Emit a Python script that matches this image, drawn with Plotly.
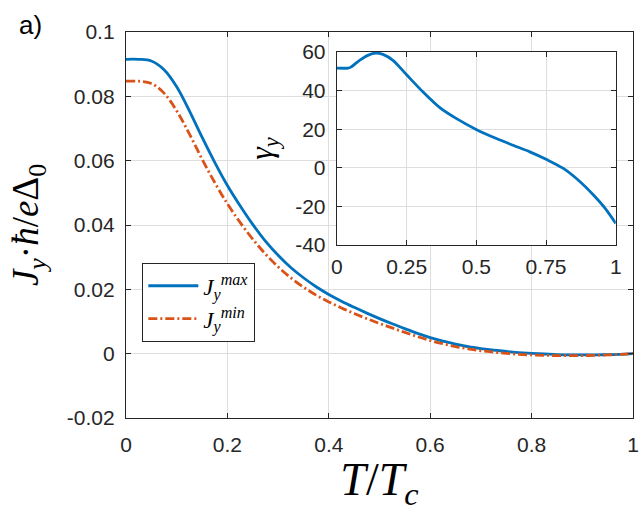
import plotly.graph_objects as go

# ---- data ----
T = [0, 0.025, 0.05, 0.075, 0.1, 0.125, 0.15, 0.175, 0.2, 0.225, 0.25, 0.275, 0.3,
     0.325, 0.35, 0.375, 0.4, 0.425, 0.45, 0.475, 0.5, 0.525, 0.55, 0.575, 0.6,
     0.625, 0.65, 0.675, 0.7, 0.725, 0.75, 0.775, 0.8, 0.825, 0.85, 0.875, 0.9,
     0.925, 0.95, 0.975, 1.0]
J_max = [0.0915, 0.0915, 0.0910, 0.0883, 0.0830, 0.0755, 0.0673, 0.0595, 0.0523,
         0.0460, 0.0402, 0.0350, 0.0306, 0.0268, 0.0236, 0.0208, 0.0184, 0.0163,
         0.0144, 0.0126, 0.0109, 0.0093, 0.0078, 0.0063, 0.0050, 0.0039, 0.0030,
         0.0022, 0.0016, 0.0011, 0.0007, 0.0003, 0.0001, -0.0001, -0.0003, -0.0004,
         -0.0004, -0.0004, -0.0003, -0.0002, 0.0]
J_min = [0.0847, 0.0847, 0.0840, 0.0810, 0.0755, 0.0683, 0.0605, 0.0532, 0.0466,
         0.0408, 0.0356, 0.0310, 0.0270, 0.0236, 0.0207, 0.0182, 0.0161, 0.0142,
         0.0125, 0.0109, 0.0094, 0.0080, 0.0066, 0.0053, 0.0041, 0.0031, 0.0022,
         0.0015, 0.0009, 0.0005, 0.0001, -0.0002, -0.0004, -0.0005, -0.0006, -0.0006,
         -0.0006, -0.0005, -0.0004, -0.0002, 0.0]

T_in = [0, 0.04, 0.05, 0.081, 0.111, 0.139, 0.165, 0.201, 0.249, 0.309, 0.369,
        0.429, 0.501, 0.572, 0.632, 0.692, 0.752, 0.812, 0.872, 0.92, 0.962, 1.0]
gamma_y = [51.7, 51.7, 52.2, 55.7, 58.3, 59.5, 58.8, 55.7, 48.4, 39.3, 31.2,
           25.5, 19.8, 15.2, 11.7, 8.3, 4.3, -0.3, -7.2, -14.1, -21.0, -28.8]

main_xticks = [0, 0.2, 0.4, 0.6, 0.8, 1]
main_xticklabels = ["0", "0.2", "0.4", "0.6", "0.8", "1"]
main_yticks = [-0.02, 0, 0.02, 0.04, 0.06, 0.08, 0.1]
main_yticklabels = ["-0.02", "0", "0.02", "0.04", "0.06", "0.08", "0.1"]
in_xticks = [0, 0.25, 0.5, 0.75, 1]
in_xticklabels = ["0", "0.25", "0.5", "0.75", "1"]
in_yticks = [-40, -20, 0, 20, 40, 60]
in_yticklabels = ["-40", "-20", "0", "20", "40", "60"]

BLUE = "#0072BD"
ORANGE = "#D95319"
AX = "#262626"
GRID = "#dedede"
TICKFONT = dict(family="Liberation Sans, Arial, sans-serif", size=21, color=AX)
SERIF = "Liberation Serif, Times New Roman, serif"

fig = go.Figure()
fig.add_trace(go.Scatter(x=T, y=J_max, mode="lines", line=dict(color=BLUE, width=2.8, shape="spline", smoothing=1),
                         name="<i>J</i><sub><i>y</i></sub><sup><i>max</i></sup>", xaxis="x", yaxis="y"))
fig.add_trace(go.Scatter(x=T, y=J_min, mode="lines",
                         line=dict(color=ORANGE, width=2.8, dash="9px,3px,2px,3px", shape="spline", smoothing=1),
                         name="<i>J</i><sub><i>y</i></sub><sup><i>min</i></sup>", xaxis="x", yaxis="y"))
fig.add_trace(go.Scatter(x=T_in, y=gamma_y, mode="lines", line=dict(color=BLUE, width=2.8, shape="spline", smoothing=0.8),
                         showlegend=False, xaxis="x2", yaxis="y2"))

common = dict(showline=True, linecolor=AX, linewidth=1.3, mirror="ticks", ticks="inside",
              ticklen=5, tickcolor=AX, tickwidth=1.3, showgrid=True, gridcolor=GRID,
              gridwidth=1, zeroline=False, tickfont=TICKFONT, automargin=False)

fig.update_layout(
    width=641, height=512,
    margin=dict(l=126, r=8, t=32, b=94, autoexpand=False),
    paper_bgcolor="white", plot_bgcolor="white",
    xaxis=dict(domain=[0, 1], range=[0, 1], tickvals=main_xticks, ticktext=main_xticklabels,
               ticklabelstandoff=8,
               title=dict(text="<i>T</i>/<i>T</i><sub><i>c</i></sub>", font=dict(family=SERIF, size=46, color="black"),
                          standoff=4),
               **common),
    yaxis=dict(domain=[0, 1], range=[-0.02, 0.1], tickvals=main_yticks, ticktext=main_yticklabels,
               ticklabelstandoff=6,
               title=dict(text="<i>J</i><sub><i>y</i></sub>·<i>ħ</i>/<i>e</i>Δ<sub>0</sub>",
                          font=dict(family=SERIF, size=37, color="black"), standoff=16),
               **common),
    xaxis2=dict(domain=[0.416, 0.966], range=[0, 1], anchor="y2", tickvals=in_xticks,
                ticktext=in_xticklabels, ticklabelstandoff=3, **common),
    yaxis2=dict(domain=[0.448, 0.948], range=[-40, 60], anchor="x2", tickvals=in_yticks,
                ticktext=in_yticklabels, ticklabelstandoff=6,
                title=dict(text="<i>γ</i><sub><i>y</i></sub>", font=dict(family=SERIF, size=32, color="black"),
                           standoff=12),
                **common),
    legend=dict(x=0.0316, y=0.4016, xanchor="left", yanchor="top", bgcolor="white",
                bordercolor=AX, borderwidth=1.3, font=dict(family=SERIF, size=23, color="black"),
                itemwidth=50, tracegroupgap=0),
    showlegend=True,
    annotations=[dict(text="a)", xref="paper", yref="paper", x=-0.215, y=1.062, xanchor="left", yanchor="top",
                      showarrow=False, font=dict(family="Liberation Sans, Arial, sans-serif", size=26, color="black"))],
)

fig.write_html("out.html")
